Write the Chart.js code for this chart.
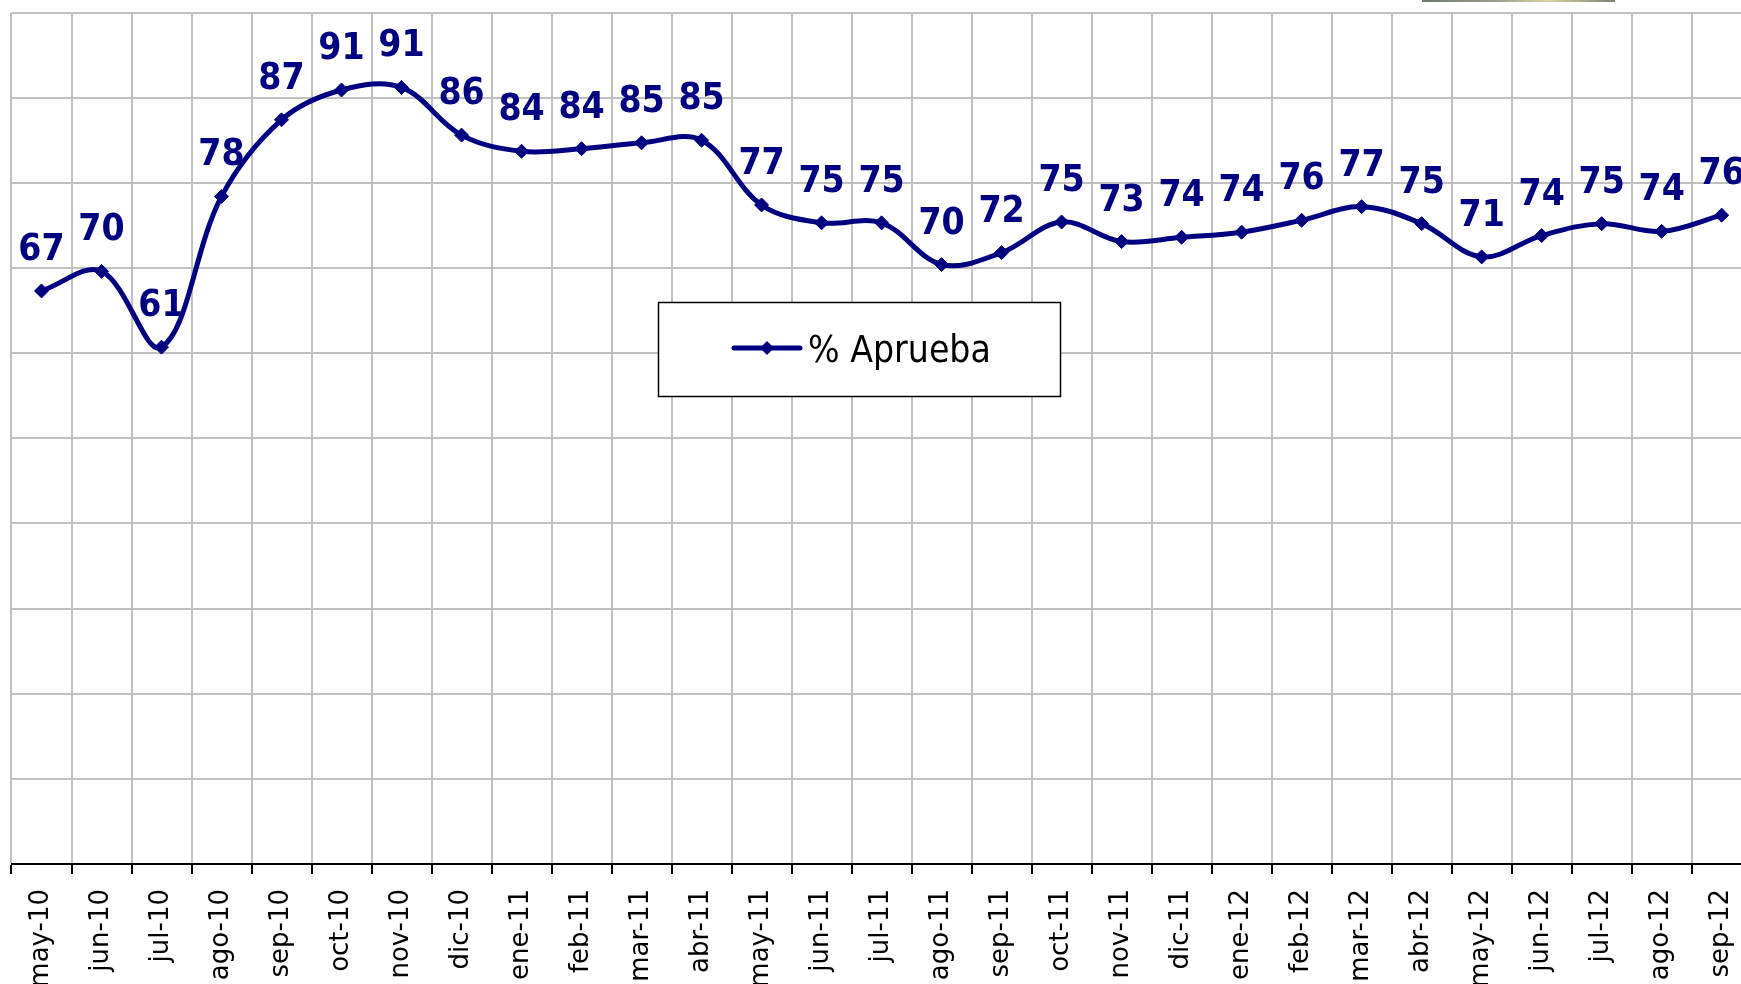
<!DOCTYPE html>
<html>
<head>
<meta charset="utf-8">
<title>% Aprueba</title>
<script src="https://cdn.jsdelivr.net/npm/chart.js@4.4.0/dist/chart.umd.min.js"></script>
<style>
    html, body { margin: 0; padding: 0; background: #fff; overflow: hidden; }
    #wrap { position: absolute; left: 0; top: 0; width: 1768px; height: 984px; }
    /* bit of a picture sitting above the chart, cut off by the frame */
    #pic { position: absolute; left: 1422px; top: 0; width: 193px; height: 2px;
           background: linear-gradient(90deg, #6f776f, #9aa08f 40%, #d8d4a0 65%, #7c8274); }
</style>
</head>
<body>
<div id="wrap"><canvas id="approvalChart"></canvas></div>
<div id="pic"></div>
<script>
        const months = ['may-10', 'jun-10', 'jul-10', 'ago-10', 'sep-10', 'oct-10', 'nov-10', 'dic-10',
                        'ene-11', 'feb-11', 'mar-11', 'abr-11', 'may-11', 'jun-11', 'jul-11', 'ago-11',
                        'sep-11', 'oct-11', 'nov-11', 'dic-11', 'ene-12', 'feb-12', 'mar-12', 'abr-12',
                        'may-12', 'jun-12', 'jul-12', 'ago-12', 'sep-12'];
        // labels show them rounded
        const approval = [67.3, 69.6, 60.7, 78.4, 87.4, 90.9, 91.2, 85.6, 83.7, 84.0, 84.7, 85.0,
                          77.4, 75.3, 75.3, 70.4, 71.8, 75.4, 73.1, 73.6, 74.2, 75.6, 77.2, 75.2,
                          71.3, 73.8, 75.2, 74.3, 76.2];
        const seriesName = '% Aprueba';
        const yMin = 0, yMax = 100, yStep = 10;

        const navy = '#000080';
        const gridGray = '#c0c0c0';
        const condensed = '"DejaVu Sans Condensed", "DejaVu Sans", sans-serif';

        // value labels above every point (Excel style)
        const pointLabels = {
            id: 'pointLabels',
            afterDatasetsDraw(chart) {
                const ctx = chart.ctx;
                const meta = chart.getDatasetMeta(0);
                ctx.save();
                ctx.font = 'bold 37px ' + condensed;
                ctx.fillStyle = navy;
                ctx.textAlign = 'center';
                ctx.textBaseline = 'alphabetic';
                meta.data.forEach((pt, i) => {
                    ctx.fillText(String(Math.round(approval[i])), pt.x, pt.y - 31);
                });
                ctx.restore();
            }
        };

        // boxed legend floating inside the plot
        const boxLegend = {
            id: 'boxLegend',
            afterDraw(chart) {
                const ctx = chart.ctx;
                const x = 658.5, y = 302.5, w = 402, h = 94;
                ctx.save();
                ctx.fillStyle = '#fff';
                ctx.fillRect(x, y, w, h);
                ctx.strokeStyle = '#000';
                ctx.lineWidth = 1.5;
                ctx.strokeRect(x, y, w, h);

                ctx.strokeStyle = navy;
                ctx.lineWidth = 5;
                ctx.lineCap = 'round';
                ctx.beginPath();
                ctx.moveTo(734, 348);
                ctx.lineTo(800, 348);
                ctx.stroke();
                ctx.fillStyle = navy;
                ctx.beginPath();
                ctx.moveTo(767, 341); ctx.lineTo(774, 348); ctx.lineTo(767, 355); ctx.lineTo(760, 348);
                ctx.closePath();
                ctx.fill();

                ctx.fillStyle = '#000';
                ctx.font = '37px ' + condensed;
                ctx.textAlign = 'left';
                ctx.textBaseline = 'alphabetic';
                ctx.fillText(seriesName, 808, 362);
                ctx.restore();
            }
        };

        const approvalCtx = document.getElementById('approvalChart').getContext('2d');

        const approvalChart = new Chart(approvalCtx, {
            type: 'line',
            data: {
                labels: months,
                datasets: [{
                    label: seriesName,
                    data: approval,
                    borderColor: navy,
                    backgroundColor: navy,
                    borderWidth: 5,
                    tension: 0.36,
                    fill: false,
                    pointStyle: 'rectRot',
                    pointRadius: 7,
                    pointBackgroundColor: navy,
                    pointBorderColor: navy,
                    pointBorderWidth: 1
                }]
            },
            options: {
                responsive: true,
                maintainAspectRatio: false,
                animation: false,
                devicePixelRatio: 1,
                layout: { padding: { left: 11.5, right: 8.5, top: 12.5, bottom: 0 } },
                plugins: {
                    legend: { display: false },
                    tooltip: { enabled: false }
                },
                scales: {
                    x: {
                        offset: true,
                        grid: {
                            offset: true,
                            color: gridGray,
                            lineWidth: 2,
                            drawTicks: true,
                            tickLength: 10,
                            tickColor: '#000',
                            tickWidth: 2
                        },
                        border: { display: true, color: '#000', width: 2 },
                        ticks: {
                            autoSkip: false,
                            minRotation: 90,
                            maxRotation: 90,
                            padding: 15,
                            color: '#000',
                            font: { family: '"DejaVu Sans", sans-serif', size: 26 }
                        },
                        afterFit(scale) { scale.height = 120; }
                    },
                    y: {
                        min: yMin,
                        max: yMax,
                        ticks: { stepSize: yStep, display: false },
                        grid: { color: gridGray, lineWidth: 2, drawTicks: false },
                        border: { display: false },
                        afterFit(scale) { scale.width = 0; }
                    }
                }
            },
            plugins: [pointLabels, boxLegend]
        });
</script>
</body>
</html>
